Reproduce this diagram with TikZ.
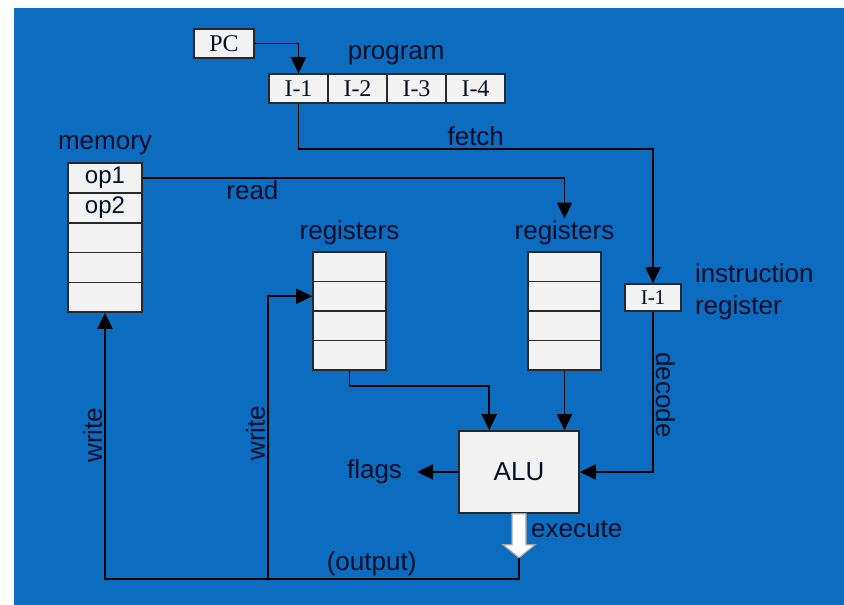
\documentclass[tikz,border=0pt]{standalone}
\usepackage{fontspec}
\setmainfont{Liberation Sans}
\newfontfamily\timesfont{Liberation Serif}
\usepackage{tikz}
\usetikzlibrary{arrows.meta,positioning,calc}

\definecolor{cpublue}{RGB}{11,108,192}
\definecolor{cellfill}{RGB}{242,242,242}
\definecolor{celldraw}{RGB}{40,40,40}
\definecolor{labeltext}{RGB}{8,14,38}

\begin{document}
\begin{tikzpicture}[
  x=1pt, y=-1pt,
  cell/.style={draw=celldraw, line width=1.6pt, fill=cellfill, inner sep=0pt, text=labeltext, font=\timesfont\fontsize{24}{28}\selectfont},
  memcell/.style={cell, minimum width=74pt, minimum height=29.8pt, font=\fontsize{24}{28}\selectfont},
  regcell/.style={cell, minimum width=73pt, minimum height=29.5pt},
  progcell/.style={cell, minimum width=59pt, minimum height=29pt},
  lbl/.style={font=\fontsize{26}{32}\selectfont, text=labeltext, inner sep=2pt},
  arr/.style={-{Triangle[length=16pt,width=15pt]}, line width=1.8pt},
  hollow/.style={draw=gray!70, line width=1.2pt, fill=white},
  node distance=4pt
]

\useasboundingbox (0,0) rectangle (844,605);
\fill[cpublue] (14,8) rectangle (844,605);

\node[progcell, minimum width=60pt] (pc) at (224,43.5) {PC};

\foreach \t [count=\i] in {I-1,I-2,I-3,I-4}
  \node[progcell] (p\i) at (239.5+59*\i,88.5) {\t};

\foreach \t [count=\i] in {op1,op2,{},{},{}}
  \node[memcell] (m\i) at (105,148.2+29.8*\i) {\t};

\foreach \i in {1,...,4} {
  \node[regcell] (ra\i) at (349.5,237.25+29.5*\i) {};
  \node[regcell] (rb\i) at (564.5,237.25+29.5*\i) {};
}

\node[cell, minimum width=56pt, minimum height=27pt, font=\timesfont\fontsize{21}{25}\selectfont] (ir) at (653,297.5) {I-1};

\node[cell, minimum width=120pt, minimum height=82pt, font=\fontsize{26}{32}\selectfont] (alu) at (519,472) {ALU};

\node[lbl, above=6pt of p3.north west, xshift=10pt] (lprog) {program};
\node[lbl, above=5pt of m1] (lmem) {memory};
\node[lbl, above=4pt of ra1] (lra) {registers};
\node[lbl, above=4pt of rb1] (lrb) {registers};
\node[lbl, align=left, right=11pt of ir, yshift=6pt] (lir) {instruction\\register};

\draw[arr] (pc.east) -| (p1.north);
\draw[arr] (p1.south) -- ++(0,45) -| node[lbl, pos=0.25, above] {fetch} (ir.north);
\draw[arr] (m1.east) -| node[lbl, pos=0.13, below] {read} (lrb.north);
\draw[arr] (ra4.south) -- ++(0,15) -| ([xshift=31pt]alu.north west);
\draw[arr] (rb4.south) -- (alu.north -| rb4.south);
\draw[arr] (ir.south) |- node[lbl, pos=0.26, rotate=-90, anchor=south] {decode} (alu.east);

\draw[arr] (alu.west) -- ++(-41,0) coordinate (fl);
\node[lbl, left=13pt of fl] (lflags) {flags};

\draw[hollow] ([xshift=-7pt]alu.south) -- ++(0,31) -- ++(-9,0) -- ++(16,13) coordinate (tip) -- ++(16,-13) -- ++(-9,0) -- ++(0,-31) -- cycle;
\node[lbl, anchor=west] (lexec) at ([xshift=10pt,yshift=-15pt]alu.south) {execute};

\draw[arr] (tip) -- ++(0,21) -| node[lbl, pos=0.178, above] {(output)} node[lbl, pos=0.77, rotate=90, anchor=south] {write} (m5.south);
\coordinate (split) at (268,578);
\draw[arr] (split) |- node[lbl, pos=0.257, rotate=90, anchor=south] {write} (ra2.west);

\end{tikzpicture}
\end{document}
